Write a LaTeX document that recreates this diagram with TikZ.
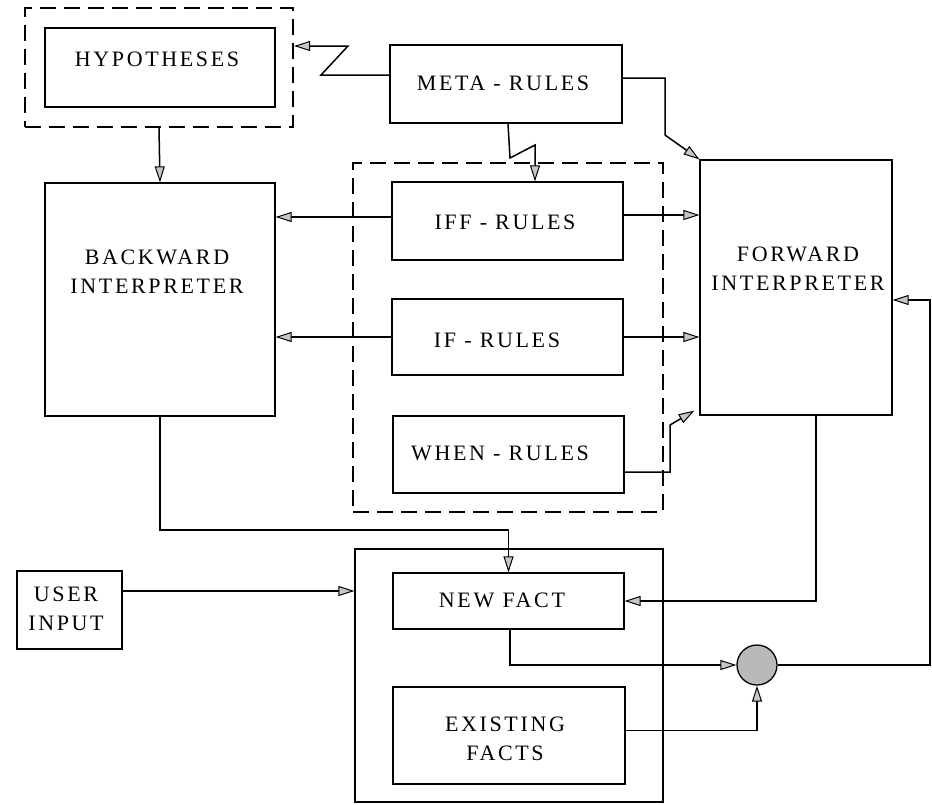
\documentclass[tikz,border=0pt]{standalone}
\usepackage{fontspec}
\setmainfont{Liberation Serif}[LetterSpace=12]
\usetikzlibrary{arrows.meta}
\begin{document}
\begin{tikzpicture}[x=1pt,y=-1pt,
  box/.style={draw, line width=1.2pt, rectangle, inner sep=0pt},
  dbox/.style={draw, line width=2.2pt, dash pattern=on 16pt off 8pt, rectangle, inner sep=0pt},
  txt/.style={font=\fontsize{22}{29}\selectfont, align=center, inner sep=0pt},
  arr/.style={line width=1.5pt, -{Triangle[open, length=16pt, width=10pt, fill=gray!45, line width=1pt]}}]
\useasboundingbox (0,0) rectangle (932,804);
% boxes
\node[dbox, minimum width=268pt, minimum height=119pt] (hypdash) at (159,67.5) {};
\node[box, minimum width=230pt, minimum height=79pt] (hyp) at (160,67.5) {};
\node[box, minimum width=232pt, minimum height=78pt] (meta) at (506,84) {};
\node[box, minimum width=230pt, minimum height=233pt] (back) at (160,299.5) {};
\node[dbox, minimum width=310pt, minimum height=349pt] (rulesdash) at (508,337.5) {};
\node[box, minimum width=231pt, minimum height=78pt] (iff) at (507.5,221) {};
\node[box, minimum width=231pt, minimum height=76pt] (ifr) at (507.5,337) {};
\node[box, minimum width=231pt, minimum height=77pt] (when) at (508.5,454.5) {};
\node[box, minimum width=192pt, minimum height=255pt] (fwd) at (796,287.5) {};
\node[box, minimum width=308pt, minimum height=253pt] (facts) at (509,675.5) {};
\node[box, minimum width=231pt, minimum height=56pt] (newf) at (508.5,601) {};
\node[box, minimum width=232pt, minimum height=97pt] (exist) at (509,735.5) {};
\node[box, minimum width=105pt, minimum height=78pt] (user) at (69.5,610) {};
\node[draw, line width=1.3pt, circle, minimum size=40pt, inner sep=0pt, fill=gray!55] (circ) at (757,665) {};
% texts
\node[txt] (hyp-t) at (157,59) {HYPOTHESES};
\node[txt] (meta-t) at (503,83) {META - RULES};
\node[txt] (iff-t) at (505,222) {IFF - RULES};
\node[txt] (ifr-t) at (497,340) {IF - RULES};
\node[txt] (when-t) at (500,453) {WHEN - RULES};
\node[txt] (back-t) at (157,272) {BACKWARD\\INTERPRETER};
\node[txt] (fwd-t) at (798,269) {FORWARD\\INTERPRETER};
\node[txt] (newf-t) at (502,600) {NEW FACT};
\node[txt] (exist-t) at (505,739) {EXISTING\\FACTS};
\node[txt] (user-t) at (66,609) {USER\\INPUT};
% bend points
\coordinate (z1) at (321,75);
\coordinate (z2) at (348,46);
\coordinate (z3) at (510,158);
\coordinate (z4) at (535,145);
\coordinate (m1) at (665,78);
\coordinate (m2) at (665,135);
\coordinate (w1) at (670,472);
\coordinate (w2) at (670,425);
\coordinate (bj) at (330,530);
\coordinate (r1) at (930,665);
\coordinate (r2) at (930,300);
% connectors
\draw[arr] ([yshift=9pt]meta.west) -- (z1) -- (z2) -- (z2 -| hypdash.east);
\draw[arr] ([xshift=2pt]meta.south) -- (z3) -- (z4) -- (z4 |- iff.north);
\draw[arr] ([yshift=6pt]meta.east) -- (m1) -- (m2) -- (fwd.north west);
\draw[arr] (hypdash.south) -- (back.north);
\draw[arr] ([yshift=4pt]iff.west) coordinate (a1) -- (a1 -| back.east);
\draw[arr] ([yshift=6pt]iff.east) coordinate (a2) -- (a2 -| fwd.west);
\draw[arr] (ifr.west) -- (ifr.west -| back.east);
\draw[arr] (ifr.east) -- (ifr.east -| fwd.west);
\draw[arr] ([yshift=-17.5pt]when.east) -- (w1) -- (w2) -- ([shift={(-5pt,5pt)}]fwd.south west);
\draw[arr] (back.south) |- (bj) -| (newf.north);
\draw[arr] ([yshift=19pt]user.east) coordinate (a3) -- (a3 -| facts.west);
\draw[arr] ([xshift=20pt]fwd.south) |- (newf.east);
\draw[arr] ([xshift=1.5pt]newf.south) |- (circ.west);
\draw[arr] ([yshift=5pt]exist.east) -| (circ.south);
\draw[arr] (circ.east) -- (r1) -- (r2) -- (r2 -| fwd.east);
\end{tikzpicture}
\end{document}
